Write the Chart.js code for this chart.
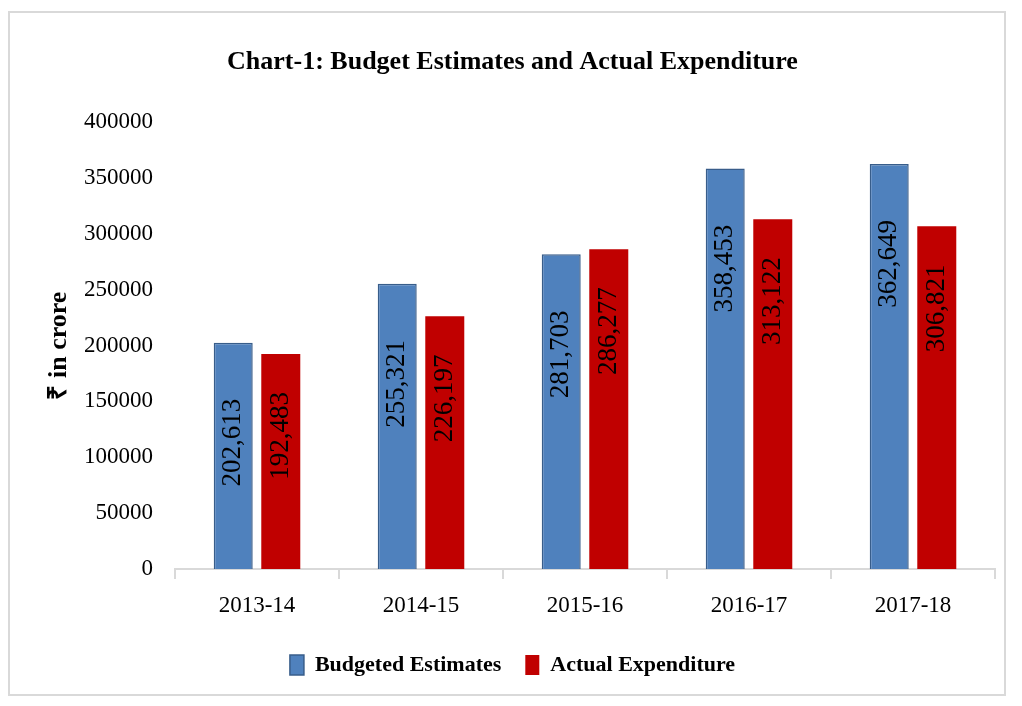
<!DOCTYPE html>
<html>
<head>
<meta charset="utf-8">
<script src="https://cdn.jsdelivr.net/npm/chart.js@4.4.1/dist/chart.umd.min.js"></script>
<style>
    body { margin: 0; background: #fff; }
</style>
</head>
<body>
<canvas id="budgetChart" width="1022" height="706"></canvas>
<script>
const years = ['2013-14', '2014-15', '2015-16', '2016-17', '2017-18'];
const budgeted = [202613, 255321, 281703, 358453, 362649];
const actual = [192483, 226197, 286277, 313122, 306821];
const yTicks = [0, 50000, 100000, 150000, 200000, 250000, 300000, 350000, 400000];

const serif = '"Liberation Serif", "Times New Roman", serif';

// outer frame like the exported picture
const framePlugin = {
    id: 'frame',
    beforeDraw(chart) {
        const ctx = chart.ctx;
        ctx.save();
        ctx.fillStyle = '#fff';
        ctx.fillRect(0, 0, chart.width, chart.height);
        ctx.strokeStyle = '#d9d9d9';
        ctx.lineWidth = 2;
        ctx.strokeRect(9, 12, 996, 683);
        ctx.restore();
    }
};

// vertical value labels inside the bars
const labelOffset = [100, 82];
const valueLabels = {
    id: 'valueLabels',
    afterDatasetsDraw(chart) {
        const ctx = chart.ctx;
        ctx.save();
        ctx.font = '27px ' + serif;
        ctx.fillStyle = '#000';
        ctx.textAlign = 'center';
        ctx.textBaseline = 'middle';
        chart.data.datasets.forEach((ds, i) => {
            const meta = chart.getDatasetMeta(i);
            meta.data.forEach((bar, j) => {
                ctx.save();
                ctx.translate(bar.x, bar.y + labelOffset[i]);
                ctx.rotate(-Math.PI / 2);
                ctx.fillText(ds.data[j].toLocaleString('en-US'), 0, 0);
                ctx.restore();
            });
        });
        ctx.restore();
    }
};

const data = {
    labels: years,
    datasets: [{
        label: 'Budgeted Estimates',
        data: budgeted,
        backgroundColor: '#4f81bd',
        borderColor: '#385d8a',
        borderWidth: 1.5,
        categoryPercentage: 0.58,
        barPercentage: 0.82
    }, {
        label: 'Actual Expenditure',
        data: actual,
        backgroundColor: '#c00000',
        borderColor: '#c00000',
        borderWidth: 0,
        categoryPercentage: 0.58,
        barPercentage: 0.82
    }]
};

const config = {
    type: 'bar',
    data,
    plugins: [framePlugin, valueLabels],
    options: {
        responsive: false,
        animation: false,
        layout: {
            padding: { top: 14, left: 30, right: 27, bottom: 20 }
        },
        plugins: {
            title: {
                display: true,
                text: 'Chart-1: Budget Estimates and Actual Expenditure',
                color: '#000',
                font: { family: serif, size: 26, weight: 'bold' },
                padding: { top: 33, bottom: 44 }
            },
            legend: {
                position: 'bottom',
                labels: {
                    color: '#000',
                    font: { family: serif, size: 22, weight: 'bold' },
                    boxWidth: 14,
                    boxHeight: 20,
                    padding: 24
                }
            },
            tooltip: { enabled: false }
        },
        scales: {
            x: {
                grid: {
                    drawOnChartArea: false,
                    drawTicks: true,
                    tickLength: 10,
                    color: '#d9d9d9',
                    lineWidth: 2
                },
                border: { color: '#d9d9d9', width: 2 },
                ticks: {
                    color: '#000',
                    font: { family: serif, size: 23 },
                    padding: 13
                },
                afterFit(scale) { scale.height = 61; }
            },
            y: {
                min: 0,
                max: 400000,
                grid: { display: false, drawTicks: false },
                border: { display: false },
                afterBuildTicks(scale) {
                    scale.ticks = yTicks.map(v => ({ value: v }));
                },
                ticks: {
                    color: '#000',
                    font: { family: serif, size: 23 },
                    padding: 22,
                    callback: v => String(v)
                },
                title: {
                    display: true,
                    text: '₹ in crore',
                    color: '#000',
                    font: { family: serif, size: 26, weight: 'bold' },
                    padding: { top: 14, bottom: 0 }
                },
                afterFit(scale) { scale.width = 145; }
            }
        }
    }
};

const budgetChart = new Chart(document.getElementById('budgetChart'), config);
</script>
</body>
</html>
